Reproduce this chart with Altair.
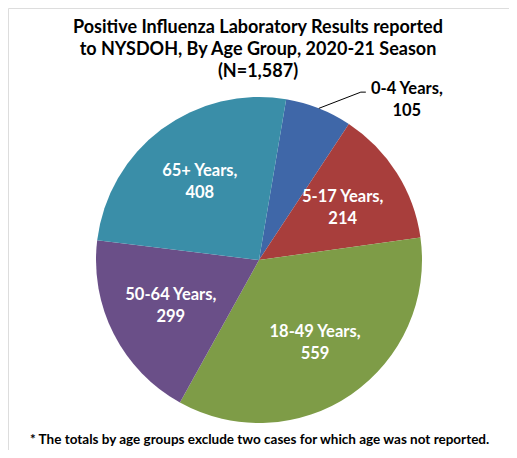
import math
import altair as alt
import pandas as pd

# ---- data ----
ages = ["0-4 Years", "5-17 Years", "18-49 Years", "50-64 Years", "65+ Years"]
counts = [105, 214, 559, 299, 408]
colors = ["#3f67a8", "#a83e3c", "#7e9c47", "#6a4f88", "#3a8ea8"]
title_lines = [
    "Positive Influenza Laboratory Results reported",
    "to NYSDOH, By Age Group, 2020-21 Season",
    "(N=1,587)",
]
footnote = "* The totals by age groups exclude two cases for which age was not reported."

# ---- layout ----
W, H = 501, 442
CX, CY = 251, 252          # pie centre inside the plot area
R = 163
START_DEG = 9.6            # angle of first slice
start = math.radians(START_DEG)
FONT = "Lato"

df = pd.DataFrame({
    "age": ages,
    "count": counts,
    "order": list(range(len(ages))),
})
df["label"] = df["age"] + ",\n" + df["count"].astype(str)
df["inside"] = df["order"] > 0

theta = alt.Theta("count:Q", stack=True,
                  scale=alt.Scale(range=[start, start + 2 * math.pi]))
color = alt.Color("age:N", scale=alt.Scale(domain=ages, range=colors), legend=None)
order = alt.Order("order:Q")

base = alt.Chart(df)

pie = base.mark_arc(outerRadius=R, stroke=None).encode(
    theta=theta, color=color, order=order,
    x=alt.value(CX), y=alt.value(CY),
)

inner = base.mark_text(radius=99, dy=-10, font=FONT, fontWeight="bold", fontSize=16.5,
                       lineBreak="\n", lineHeight=22, color="white").encode(
    theta=theta, order=order, text="label:N",
    opacity=alt.condition("datum.inside", alt.value(1), alt.value(0)),
    x=alt.value(CX), y=alt.value(CY),
)

outer = base.mark_text(radius=174, dx=84, dy=-9, font=FONT, fontWeight="bold", fontSize=16.5,
                       lineBreak="\n", lineHeight=22, color="black").encode(
    theta=theta, order=order, text="label:N",
    opacity=alt.condition("datum.inside", alt.value(0), alt.value(1)),
    x=alt.value(CX), y=alt.value(CY),
)

# leader line for the outside label, derived from the first slice's mid angle
total = sum(counts)
mid = start + (counts[0] / total) * math.pi
p0 = (CX + R * math.sin(mid), CY - R * math.cos(mid))
lab = (CX + 174 * math.sin(mid) + 84, CY - 174 * math.cos(mid))
elbow = (lab[0] - 46, lab[1] - 6)
tail = (lab[0] - 41, lab[1] - 6)
leader_df = pd.DataFrame({
    "px": [p0[0], elbow[0], tail[0]],
    "py": [p0[1], elbow[1], tail[1]],
    "k": [0, 1, 2],
})
leader = alt.Chart(leader_df).mark_line(color="black", strokeWidth=1).encode(
    x=alt.X("px:Q", scale=alt.Scale(domain=[0, W]), axis=None),
    y=alt.Y("py:Q", scale=alt.Scale(domain=[0, H], reverse=True), axis=None),
    order="k:Q",
)

title = alt.Chart(pd.DataFrame({"t": ["\n".join(title_lines)]})).mark_text(
    font=FONT, fontWeight="bold", fontSize=18, lineBreak="\n", lineHeight=22,
    align="center", baseline="middle", color="black",
).encode(text="t:N", x=alt.value(250), y=alt.value(20))

foot = alt.Chart(pd.DataFrame({"t": [footnote]})).mark_text(
    font=FONT, fontWeight="bold", fontSize=13.5, align="left", baseline="middle",
    color="black",
).encode(text="t:N", x=alt.value(22), y=alt.value(432))

chart = alt.layer(pie, inner, outer, leader, title, foot).properties(
    width=W, height=H,
    autosize=alt.AutoSizeParams(type="none"),
    padding=0,
).configure_view(stroke=None).configure(background="white")

chart.save("out.html", embed_options={"renderer": "svg", "actions": False})
